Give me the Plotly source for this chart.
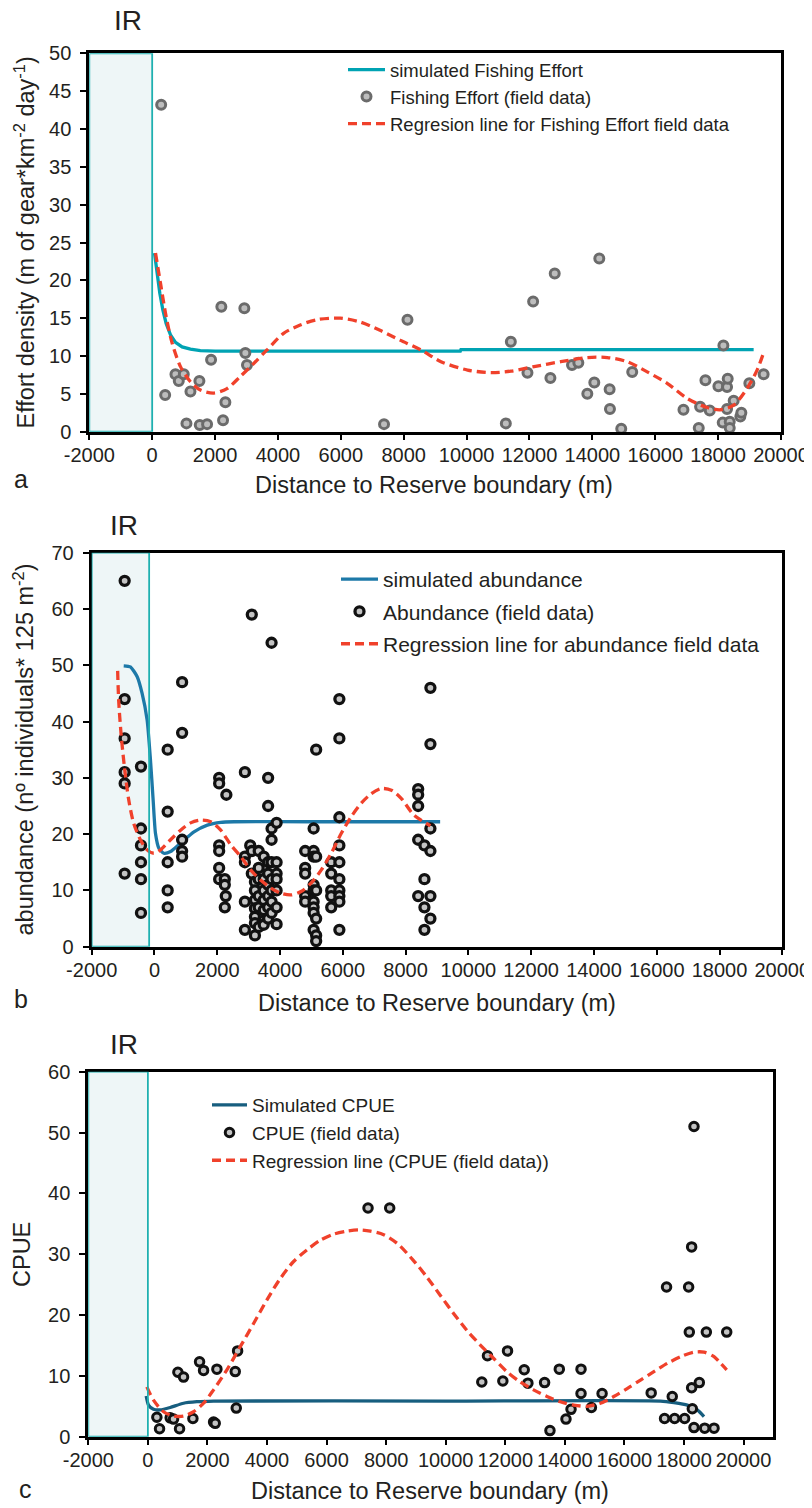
import plotly.graph_objects as go

# ---------------- Panel a : fishing effort ----------------
EFF_X = [286, 413, 740, 846, 1005, 1090, 1217, 1502, 1513, 1746, 1873, 2200, 2254, 2328, 2931, 2963, 3015,
         7374, 8120, 11248, 11407, 11936, 12116, 12666, 12803, 13353, 13554, 13840, 14062, 14221, 14549,
         14560, 14919, 15268, 16898, 17384, 17427, 17596, 17734, 18009, 18168, 18146, 18284, 18284, 18305,
         18369, 18369, 18495, 18707, 18739, 18993, 19448]
EFF_Y = [43.2, 4.85, 7.6, 6.7, 7.6, 1.1, 5.3, 6.7, 0.9, 1.0, 9.5, 16.5, 1.5, 3.9, 16.3, 10.4, 8.8,
         1.0, 14.8, 1.1, 11.9, 7.8, 17.2, 7.1, 20.9, 8.8, 9.1, 5.0, 6.5, 22.9, 5.6,
         3.0, 0.4, 7.9, 2.9, 0.5, 3.3, 6.8, 2.8, 6.0, 11.4, 1.2, 3.0, 5.9, 7.0,
         1.3, 0.5, 4.1, 2.0, 2.5, 6.4, 7.6]
EFF_SIM_X = [74, 159, 243, 339, 444, 582, 741, 952, 1217, 1534, 2000, 5000, 9800, 9820, 14000, 19130]
EFF_SIM_Y = [23.6, 20.5, 18.3, 16.1, 14.3, 12.8, 11.8, 11.2, 10.9, 10.7, 10.65, 10.65, 10.65, 10.85, 10.85, 10.85]
EFF_REG_X = [106, 265, 444, 635, 900, 1217, 1534, 1957, 2381, 2804, 3227, 3650, 4179, 4708, 5237, 5978,
             6613, 7247, 7882, 8550, 9185, 10031, 10772, 11407, 12148, 12994, 13840, 14475, 15110, 15745,
             16380, 17015, 17650, 18073, 18495, 18918, 19236, 19469]
EFF_REG_Y = [23.6, 19.6, 15.2, 11.7, 8.6, 6.6, 5.5, 5.1, 5.7, 7.3, 9.0, 10.8, 13.0, 14.1, 14.8, 15.0,
             14.5, 13.4, 12.1, 10.8, 9.25, 8.15, 7.8, 8.0, 8.6, 9.25, 9.8, 9.8, 9.25, 7.9,
             6.4, 4.4, 3.2, 2.9, 3.5, 5.7, 8.1, 10.7]

# ---------------- Panel b : abundance ----------------
AB_X = [-950, -950, -950, -950, -950, -950,
        -430, -430, -430, -430, -430, -430,
        420, 420, 420, 420, 420,
        880, 880, 880, 880, 880,
        2060, 2060, 2060, 2060, 2060, 2060,
        2290, 2240, 2240, 2270, 2240,
        2880, 2880, 2880, 2880, 2880,
        3050, 3100, 3100, 3100,
        3200, 3200, 3200, 3200, 3200, 3200, 3200,
        3320, 3320, 3320, 3320, 3320, 3320,
        3480, 3480, 3480, 3480, 3480, 3480, 3480,
        3620, 3620, 3620, 3620, 3620, 3620, 3620, 3620,
        3730, 3730, 3730, 3730, 3730, 3730, 3730, 3730,
        3890, 3890, 3890, 3890, 3890, 3890, 3890,
        4800, 4800, 4800, 4800, 4800,
        5070, 5070, 5070, 5070, 5070, 5070, 5070, 5070, 5070,
        5150, 5150, 5150, 5150, 5150, 5150,
        5630, 5630, 5630, 5630, 5630,
        5890, 5890, 5890, 5890, 5890, 5890, 5890, 5890, 5890, 5890,
        8400, 8400, 8400, 8400, 8400,
        8600, 8600, 8600, 8600,
        8790, 8790, 8790, 8790, 8790, 8790]
AB_Y = [65, 44, 37, 31, 29, 13,
        32, 21, 18, 15, 12, 6,
        35, 24, 15, 10, 7,
        47, 38, 19, 17, 16,
        30, 29, 18, 17, 14, 12,
        27, 12, 11, 9, 7,
        31, 16, 15, 8, 3,
        18, 59, 17, 13,
        11.5, 10, 8.3, 6.8, 5.3, 4.2, 2,
        17, 14, 12, 9, 7, 3.5,
        16, 12, 10, 8.3, 6.5, 4.7, 3.9,
        30, 25, 15, 13, 11, 9, 7, 5,
        54, 21, 19, 15, 12, 10, 8, 6,
        22, 15, 13, 12, 10, 7, 4,
        17, 14, 13, 9, 8,
        21, 17, 16, 11, 10, 8, 7, 6, 3,
        35, 16, 10, 5, 2, 1,
        15, 13, 10, 9, 7,
        44, 37, 23, 18, 15, 12, 10, 9, 8, 3,
        28, 27, 25, 19, 9,
        18, 12, 7, 3,
        46, 36, 21, 17, 9, 5]
AB_SIM_X = [-980, -767, -554, -394, -235, -128, -43, 32, 139, 298, 512, 831, 1258, 1684, 2111, 2537, 5000, 9100]
AB_SIM_Y = [49.9, 49.7, 48.0, 45.0, 40.3, 33.2, 26.1, 20.1, 17.5, 16.6, 16.9, 18.4, 20.4, 21.6, 22.1, 22.2, 22.2, 22.2]
AB_REG_X = [-1173, -1141, -1066, -959, -821, -661, -448, -235, -21, 192, 512, 831, 1151, 1471, 1791, 2111,
            2430, 2750, 3070, 3390, 3710, 4029, 4349, 4669, 4989, 5309, 5628, 5948, 6268, 6588, 6908,
            7227, 7547, 7867, 8263, 8789]
AB_REG_Y = [49.0, 43.8, 37.9, 32.0, 26.1, 21.9, 19.0, 17.2, 16.6, 17.2, 19.0, 20.7, 22.0, 22.5, 22.2, 20.7,
            18.1, 16.0, 13.6, 11.8, 10.4, 9.5, 9.2, 9.8, 11.3, 13.6, 16.6, 20.1, 23.1, 25.5, 27.2,
            28.1, 27.8, 26.3, 23.4, 21.5]

# ---------------- Panel c : CPUE ----------------
CP_X = [302, 392, 750, 862, 1008, 1198, 1064, 1512, 1736, 1870, 2206, 2262, 2318, 2934, 3013, 2968, 7392,
        8120, 11212, 11403, 11919, 12076, 12637, 12760, 13321, 13501, 13815, 14039, 14208, 14544, 14544,
        14892, 15251, 16900, 17416, 17349, 17607, 17686, 18022, 18157, 18180, 18258, 18337, 18258, 18516,
        18281, 18337, 18696, 19010, 18752, 19436]
CP_Y = [3.2, 1.3, 3.1, 2.9, 10.6, 9.8, 1.3, 3.0, 12.3, 10.9, 2.4, 2.2, 11.1, 10.7, 14.1, 4.7, 37.6,
        37.6, 9.0, 13.3, 9.15, 14.1, 11.0, 8.8, 8.9, 1.0, 11.1, 2.9, 4.5, 11.1, 7.1,
        4.8, 7.1, 7.2, 24.6, 3.0, 6.6, 3.0, 3.0, 24.6, 17.2, 31.2, 51.0, 8.05, 8.9,
        4.6, 1.5, 1.4, 1.4, 17.2, 17.2]
CP_SIM_X = [-56, 22, 190, 414, 750, 1198, 1646, 2206, 10000, 17214, 17663, 18112, 18449, 18673]
CP_SIM_Y = [6.7, 5.2, 4.5, 4.4, 4.8, 5.5, 5.75, 5.86, 5.86, 5.86, 5.6, 5.2, 4.4, 3.3]
CP_REG_X = [-34, 190, 526, 862, 1198, 1534, 1870, 2206, 2654, 3102, 3550, 3998, 4446, 4894, 5342, 5790,
            6238, 6686, 7078, 7470, 7918, 8366, 8912, 9360, 9809, 10258, 10707, 11156, 11604, 12053,
            12502, 12951, 13400, 13848, 14297, 14746, 15195, 15644, 16092, 16541, 16990, 17439, 17888,
            18337, 18673, 19010, 19235, 19436]
CP_REG_Y = [8.2, 6.0, 4.1, 3.4, 3.4, 4.1, 5.5, 7.7, 11.0, 14.8, 18.6, 22.5, 26.0, 28.8, 30.7, 32.3,
            33.3, 33.8, 34.0, 33.8, 33.2, 31.8, 29.0, 26.3, 23.3, 20.3, 17.5, 15.1, 12.9, 10.7,
            9.0, 7.7, 6.6, 5.75, 5.2, 5.0, 5.5, 6.6, 7.9, 9.3, 10.7, 12.05, 13.15,
            13.9, 13.9, 13.15, 12.05, 11.0]

# axis ticks / ranges / IR zones
X_TICKS = [-2000, 0, 2000, 4000, 6000, 8000, 10000, 12000, 14000, 16000, 18000, 20000]
X_TICK_TEXT = ["-2000", "0", "2000", "4000", "6000", "8000", "10000", "12000", "14000", "16000", "18000", "20000"]
IR_A = [-2000, 0]
IR_B = [-2000, -170]
IR_C = [-2000, 0]

FONT = "Liberation Sans, Arial, sans-serif"
TXT = "#231f20"
RED = "#f0412b"
DASH = "9px,5px"

fig = go.Figure()

# panel a
fig.add_trace(go.Scatter(x=EFF_SIM_X, y=EFF_SIM_Y, mode="lines", name="simulated Fishing Effort",
                         line=dict(color="#00a3b3", width=3.3), xaxis="x", yaxis="y", legend="legend"))
fig.add_trace(go.Scatter(x=EFF_X, y=EFF_Y, mode="markers", name="Fishing Effort (field data)",
                         marker=dict(size=9, color="#bdbdbd", line=dict(color="#6b6b6b", width=3)),
                         cliponaxis=False, xaxis="x", yaxis="y", legend="legend"))
fig.add_trace(go.Scatter(x=EFF_REG_X, y=EFF_REG_Y, mode="lines", name="Regresion line for Fishing Effort field data",
                         line=dict(color=RED, width=3.3, dash=DASH, shape="spline", smoothing=0.8),
                         xaxis="x", yaxis="y", legend="legend"))
# panel b
fig.add_trace(go.Scatter(x=AB_SIM_X, y=AB_SIM_Y, mode="lines", name="simulated abundance",
                         line=dict(color="#1d79a8", width=3.3, shape="spline", smoothing=0.6),
                         xaxis="x2", yaxis="y2", legend="legend2", legendgroup="b1"))
fig.add_trace(go.Scatter(x=AB_X, y=AB_Y, mode="markers", name="Abundance (field data)",
                         marker=dict(size=9, color="#c4c4c4", line=dict(color="#111111", width=3.3)),
                         cliponaxis=False, xaxis="x2", yaxis="y2", legend="legend2", legendgroup="b2"))
fig.add_trace(go.Scatter(x=AB_REG_X, y=AB_REG_Y, mode="lines", name="Regression line for abundance field data",
                         line=dict(color=RED, width=3.3, dash=DASH, shape="spline", smoothing=0.8),
                         xaxis="x2", yaxis="y2", legend="legend2", legendgroup="b3"))
# panel c
fig.add_trace(go.Scatter(x=CP_SIM_X, y=CP_SIM_Y, mode="lines", name="Simulated CPUE",
                         line=dict(color="#175e7f", width=3.3, shape="spline", smoothing=0.6),
                         xaxis="x3", yaxis="y3", legend="legend3"))
fig.add_trace(go.Scatter(x=CP_X, y=CP_Y, mode="markers", name="CPUE (field data)",
                         marker=dict(size=8.5, color="#c4c4c4", line=dict(color="#111111", width=3)),
                         cliponaxis=False, xaxis="x3", yaxis="y3", legend="legend3"))
fig.add_trace(go.Scatter(x=CP_REG_X, y=CP_REG_Y, mode="lines", name="Regression line (CPUE (field data))",
                         line=dict(color=RED, width=3.3, dash=DASH, shape="spline", smoothing=0.8),
                         xaxis="x3", yaxis="y3", legend="legend3"))

# the page body has an 8px margin: the figure is drawn at (8, 8)
OFF = 8
W, H = 812 - OFF, 1508 - OFF


def px(v):
    return (v - OFF) / W


def py(v):
    return 1 - (v - OFF) / H


def xax(dom, rng, anchor):
    return dict(domain=dom, range=rng, anchor=anchor, tickmode="array", tickvals=X_TICKS, ticktext=X_TICK_TEXT,
                showline=True, mirror=True, linecolor="black", linewidth=3, ticks="outside", ticklen=5,
                tickwidth=2, tickcolor="black", showgrid=False, zeroline=False, automargin=False,
                tickangle=0, ticklabelstandoff=-2, tickfont=dict(family=FONT, size=20, color=TXT))


def yax(dom, rng, dt, anchor):
    return dict(domain=dom, range=rng, anchor=anchor, dtick=dt, tick0=0, tickmode="linear",
                showline=True, mirror=True, linecolor="black", linewidth=3, ticks="outside", ticklen=6,
                tickwidth=2, tickcolor="black", showgrid=False, zeroline=False, ticklabelstandoff=5,
                automargin=False, tickfont=dict(family=FONT, size=20, color=TXT))


fig.update_layout(
    template="none",
    width=W, height=H, margin=dict(l=0, r=0, t=0, b=0, pad=0),
    paper_bgcolor="white", plot_bgcolor="white", showlegend=True,
    xaxis=xax([px(89.3), px(781)], [-2000, 20000], "y"),
    yaxis=yax([py(431.7), py(53.3)], [0, 50], 5, "x"),
    xaxis2=xax([px(91.7), px(782.3)], [-2000, 20000], "y2"),
    yaxis2=yax([py(946.7), py(552.7)], [0, 70], 10, "x2"),
    xaxis3=xax([px(88.3), px(773.3)], [-2000, 21000], "y3"),
    yaxis3=yax([py(1436.7), py(1071.7)], [0, 60], 10, "x3"),
    legend=dict(x=px(343), y=py(51), xanchor="left", yanchor="top", bgcolor="rgba(0,0,0,0)",
                font=dict(family=FONT, size=18.5, color=TXT), itemwidth=37),
    legend2=dict(x=px(336), y=py(559), xanchor="left", yanchor="top", bgcolor="rgba(0,0,0,0)",
                 font=dict(family=FONT, size=21, color=TXT), itemwidth=37, tracegroupgap=2),
    legend3=dict(x=px(207), y=py(1086), xanchor="left", yanchor="top", bgcolor="rgba(0,0,0,0)",
                 font=dict(family=FONT, size=19, color=TXT), itemwidth=35),
)

shapes = []
for xr, yr, yref in [(IR_A, [0, 50], "y"), (IR_B, [0, 70], "y2"), (IR_C, [0, 60], "y3")]:
    xref = yref.replace("y", "x")
    shapes.append(dict(type="rect", xref=xref, yref=yref, x0=xr[0], x1=xr[1], y0=yr[0], y1=yr[1],
                       fillcolor="#eef6f7", line=dict(width=0), layer="below"))
    shapes.append(dict(type="rect", xref=xref, yref=yref, x0=xr[0], x1=xr[1], y0=yr[0], y1=yr[1],
                       fillcolor="rgba(0,0,0,0)", line=dict(color="#1fb0b0", width=1.8), layer="above"))
fig.update_layout(shapes=shapes)

ann = []
def add(text, x, y, size, angle=0):
    ann.append(dict(text=text, x=px(x), y=py(y), xref="paper", yref="paper", showarrow=False,
                    xanchor="center", yanchor="middle", textangle=angle,
                    font=dict(family=FONT, size=size, color=TXT)))

# IR labels
add("IR", 127.5, 20, 28)
add("IR", 124, 525, 28)
add("IR", 124, 1044, 28)
# panel letters
add("a", 21, 479, 25)
add("b", 21, 999, 25)
add("c", 25, 1489, 25)
# x titles
add("Distance to Reserve boundary (m)", 434, 485, 23.5)
add("Distance to Reserve boundary (m)", 437, 1003, 23.5)
add("Distance to Reserve boundary (m)", 430, 1491, 23.5)
# y titles
add("Effort density (m of gear*km<sup>-2</sup> day<sup>-1</sup>)", 24, 242.5, 23.5, -90)
add("abundance (nº individuals* 125 m<sup>-2</sup>)", 24, 749.5, 23.5, -90)
add("CPUE", 22, 1255, 23.5, -90)
fig.update_layout(annotations=ann)

fig.write_html("out.html")
